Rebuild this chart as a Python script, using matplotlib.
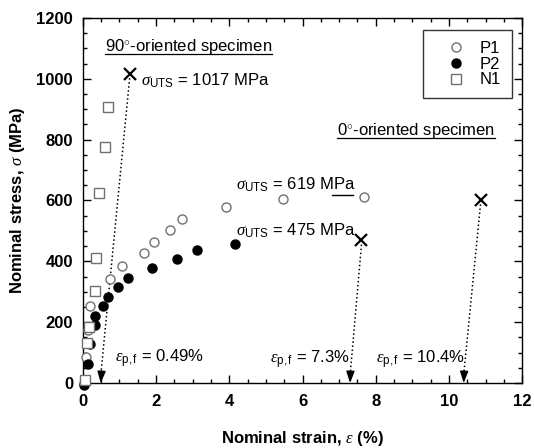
import matplotlib
matplotlib.use("Agg")
import matplotlib.pyplot as plt
from matplotlib.lines import Line2D
from matplotlib.ticker import MultipleLocator

plt.rcParams['font.family'] = ['Liberation Sans', 'DejaVu Sans']
plt.rcParams['mathtext.fontset'] = 'custom'
plt.rcParams['mathtext.rm'] = 'Liberation Sans'
plt.rcParams['mathtext.it'] = 'Liberation Serif:italic'
plt.rcParams['mathtext.bf'] = 'Liberation Sans:bold'

# === Data
p1_strain = [0.03, 0.10, 0.14, 0.19, 0.74, 1.06, 1.67, 1.94, 2.38, 2.70, 3.91, 5.46, 7.69]
p1_stress = [0, 85, 175, 253, 341, 386, 427, 465, 503, 540, 578, 605, 613]

p2_strain = [0.03, 0.15, 0.21, 0.33, 0.33, 0.54, 0.69, 0.96, 1.24, 1.90, 2.56, 3.12, 4.15]
p2_stress = [-5, 62, 128, 191, 220, 253, 284, 317, 346, 377, 408, 437, 457]

n1_strain = [0.05, 0.12, 0.17, 0.33, 0.37, 0.45, 0.60, 0.69]
n1_stress = [10, 130, 183, 302, 412, 626, 777, 906]

# fracture points (x) and plastic strain at fracture (arrow tips)
uts_strain = [1.28, 7.61, 10.86]
uts_stress = [1017, 470, 602]
epf = [0.49, 7.3, 10.4]

gray = '#707070'

fig, ax = plt.subplots(figsize=(5.34, 4.48), dpi=100)
fig.subplots_adjust(left=0.155, right=0.978, bottom=0.145, top=0.96)

ax.plot(p1_strain, p1_stress, 'o', ms=6.5, mfc='white', mec=gray, mew=1.0,
        label='P1', zorder=3, clip_on=False)
ax.plot(p2_strain, p2_stress, 'o', ms=6.5, mfc='black', mec='black',
        label='P2', zorder=3, clip_on=False)
ax.plot(n1_strain, n1_stress, 's', ms=6.5, mfc='white', mec=gray, mew=1.0,
        label='N1', zorder=4, clip_on=False)

ax.plot(uts_strain, uts_stress, 'x', ms=9, mew=1.6, color='black', zorder=5)

# dotted arrows from fracture point down to plastic strain
for xs, ys, xe in zip(uts_strain, uts_stress, epf):
    ax.plot([xs, xe], [ys - 15, 25], ':', color='black', lw=1.1, zorder=2)
    ax.annotate('', xy=(xe, 0), xytext=(xe + (xs - xe) * 0.03, 40),
                arrowprops=dict(arrowstyle='-|>,head_length=0.7,head_width=0.25',
                                color='black', lw=1.0, shrinkA=0, shrinkB=0))

# short line under "MPa" of the 619 MPa label
ax.plot([6.80, 7.38], [617, 617], '-', color='black', lw=1.0)

fs = 12
ax.text(1.58, 992, r'$\sigma_{\rm UTS}$ = 1017 MPa', fontsize=fs, va='center')
ax.text(4.18, 650, r'$\sigma_{\rm UTS}$ = 619 MPa', fontsize=fs, va='center')
ax.text(4.18, 500, r'$\sigma_{\rm UTS}$ = 475 MPa', fontsize=fs, va='center')
ax.text(0.87, 78, r'$\varepsilon_{\rm p,f}$ = 0.49%', fontsize=fs, va='center')
ax.text(5.12, 75, r'$\varepsilon_{\rm p,f}$ = 7.3%', fontsize=fs, va='center')
ax.text(8.02, 75, r'$\varepsilon_{\rm p,f}$ = 10.4%', fontsize=fs, va='center')

t90 = ax.text(0.6, 1092, '90$^{\\circ}$-oriented specimen', fontsize=fs, va='baseline')
t0 = ax.text(6.95, 815, '0$^{\\circ}$-oriented specimen', fontsize=fs, va='baseline')

ax.set_xlim(0, 12)
ax.set_ylim(0, 1200)
ax.xaxis.set_major_locator(MultipleLocator(2))
ax.xaxis.set_minor_locator(MultipleLocator(0.5))
ax.yaxis.set_major_locator(MultipleLocator(200))
ax.yaxis.set_minor_locator(MultipleLocator(50))
ax.tick_params(which='both', direction='in', top=True, right=True,
               labelsize=12, width=1.0)
ax.tick_params(which='major', length=6)
ax.tick_params(which='minor', length=3)
ax.tick_params(axis='x', pad=8)
ax.tick_params(axis='y', pad=7)
for lab in ax.get_xticklabels() + ax.get_yticklabels():
    lab.set_fontweight('bold')
for sp in ax.spines.values():
    sp.set_linewidth(1.0)

ax.set_xlabel(r'Nominal strain, $\varepsilon$ (%)', fontsize=12, fontweight='bold', labelpad=14)
ax.set_ylabel(r'Nominal stress, $\sigma$ (MPa)', fontsize=12, fontweight='bold', labelpad=7)

leg = ax.legend(loc='upper right', bbox_to_anchor=(0.977, 0.967), borderaxespad=0,
                frameon=True, fancybox=False, edgecolor='black', fontsize=12,
                handletextpad=0.1, labelspacing=0.05, borderpad=0.65,
                markerfirst=True, handlelength=2.7)
leg.get_frame().set_linewidth(1.0)

# underline the two headings
fig.canvas.draw()
for t in (t90, t0):
    bb = t.get_window_extent(fig.canvas.get_renderer()).transformed(ax.transAxes.inverted())
    _, yb = ax.transAxes.inverted().transform(ax.transData.transform((0, t.get_position()[1])))
    ax.add_line(Line2D([bb.x0, bb.x1], [yb - 0.008, yb - 0.008],
                       transform=ax.transAxes, color='black', lw=0.9))

fig.savefig('out.png', dpi=100)
